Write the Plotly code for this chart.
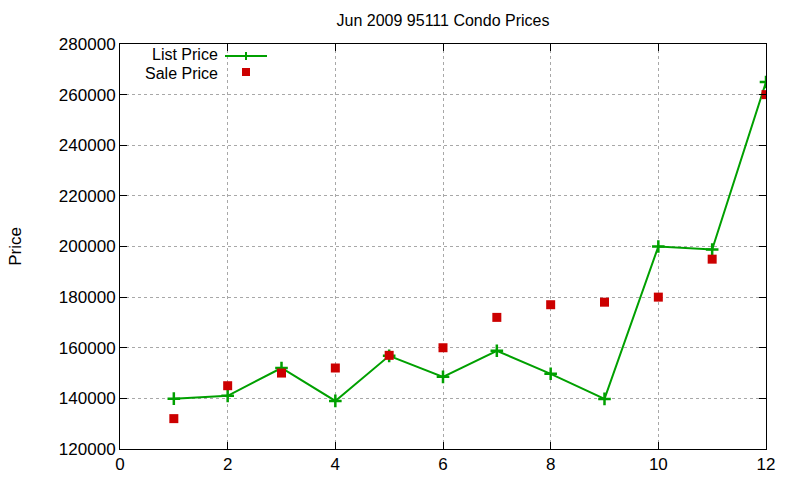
import plotly.graph_objects as go

months = [1, 2, 3, 4, 5, 6, 7, 8, 9, 10, 11, 12]
list_price = [139900, 141000, 152000, 139000, 156800, 148500, 158800, 149700, 139800, 200000, 198800, 265000]
sale_price = [132000, 145000, 150000, 152000, 157000, 160000, 172000, 177000, 178000, 180000, 195000, 260000]

title = "Jun 2009 95111 Condo Prices"
x_ticks = [0, 2, 4, 6, 8, 10, 12]
y_ticks = [120000, 140000, 160000, 180000, 200000, 220000, 240000, 260000, 280000]

GREEN = "#00a000"
RED = "#cc0000"
FONT = "Liberation Sans, Arial, sans-serif"

fig = go.Figure()
fig.add_trace(go.Scatter(
    x=months, y=list_price, mode="lines+markers", name="List Price",
    line=dict(color=GREEN, width=2),
    marker=dict(symbol="cross-thin", size=9, line=dict(color=GREEN, width=2.5)),
    showlegend=False,
))
fig.add_trace(go.Scatter(
    x=months, y=sale_price, mode="markers", name="Sale Price",
    marker=dict(symbol="square", size=9, color=RED),
    showlegend=False,
))

L, R, T, B = 120, 34, 44, 31
W, H = 800, 480
pw, ph = W - L - R, H - T - B

def px(x):
    return (x - L) / pw

def py(y):
    return (H - B - y) / ph

# gnuplot-like legend (key) at top left
fig.add_annotation(x=px(219), y=py(55), xref="paper", yref="paper", text="List Price",
                   showarrow=False, xanchor="right", yanchor="middle", borderpad=0,
                   font=dict(family=FONT, size=16, color="black"))
fig.add_annotation(x=px(219), y=py(73), xref="paper", yref="paper", text="Sale Price",
                   showarrow=False, xanchor="right", yanchor="middle", borderpad=0,
                   font=dict(family=FONT, size=16, color="black"))
shapes = [
    dict(type="line", xref="paper", yref="paper", x0=px(225), x1=px(267), y0=py(56), y1=py(56),
         line=dict(color=GREEN, width=2)),
    dict(type="line", xref="paper", yref="paper", x0=px(246), x1=px(246), y0=py(52), y1=py(60),
         line=dict(color=GREEN, width=2)),
    dict(type="rect", xref="paper", yref="paper", x0=px(242), x1=px(250), y0=py(68), y1=py(76),
         fillcolor=RED, line=dict(width=0)),
]
fig.update_layout(shapes=shapes)

fig.update_layout(
    width=W, height=H,
    margin=dict(l=L, r=R, t=T, b=B, autoexpand=False),
    paper_bgcolor="white", plot_bgcolor="white",
    font=dict(family=FONT, size=17, color="black"),
    title=dict(text=title, x=(L + pw / 2) / W, xanchor="center", y=1 - 20 / H, yanchor="middle",
               font=dict(family=FONT, size=16, color="black")),
    xaxis=dict(range=[0, 12], tickvals=x_ticks, ticks="inside", ticklen=7, tickcolor="black",
               showline=True, linecolor="black", linewidth=1, mirror="allticks", automargin=False,
               showgrid=True, gridcolor="#a8a8a8", griddash="dot", gridwidth=1, zeroline=False,
               tickfont=dict(size=17)),
    yaxis=dict(range=[120000, 280000], tickvals=y_ticks, tickformat="d", ticks="inside", ticklen=7,
               tickcolor="black", showline=True, linecolor="black", linewidth=1, mirror="allticks",
               automargin=False,
               showgrid=True, gridcolor="#a8a8a8", griddash="dot", gridwidth=1, zeroline=False,
               title=dict(text="Price", standoff=32, font=dict(size=17)),
               tickfont=dict(size=17)),
)

fig.write_html("out.html")
